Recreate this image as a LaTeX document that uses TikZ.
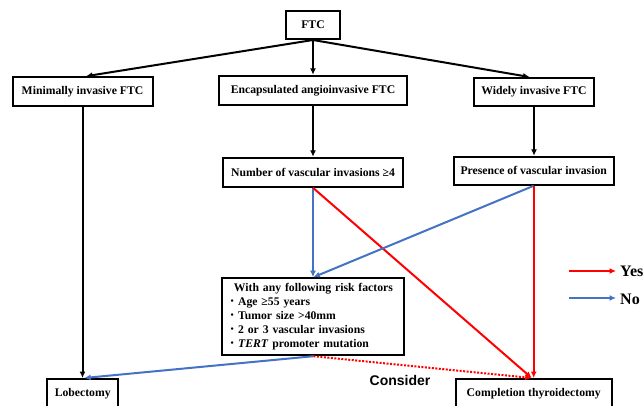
\documentclass[tikz,border=0pt]{standalone}
\usepackage{fontspec}
\setmainfont{Liberation Serif}
\newfontfamily\sansbold{Liberation Sans}
\newfontfamily\cjk{Noto Sans CJK JP}
\usetikzlibrary{arrows.meta}
\definecolor{myred}{RGB}{255,0,0}
\definecolor{myblue}{RGB}{68,114,196}
\newcommand\bul{{\mdseries\cjk ・}}
\begin{document}
\begin{tikzpicture}[x=1pt,y=-1pt,
  box/.style={draw,line width=2pt,inner sep=0pt,font=\bfseries\fontsize{11.7}{14}\selectfont,align=center},
  arr/.style={line width=2pt,-{Latex[length=6.5pt,width=6pt]}},
  yesarr/.style={arr,myred},
  noarr/.style={arr,myblue},
  dotarr/.style={yesarr,dash pattern=on 2pt off 1.5pt},
  legend/.style={font=\bfseries\fontsize{16}{18}\selectfont,anchor=west,inner sep=1pt}]
\useasboundingbox (0,0) rectangle (644,406);
\clip (0,0) rectangle (644,406);
\fill[white] (0,0) rectangle (644,406);

\node[box,minimum width=54pt,minimum height=28pt] (ftc) at (313,25) {FTC};
\node[box,minimum width=140pt,minimum height=29pt] (min) at (82.5,91.7) {Minimally invasive FTC};
\node[box,minimum width=188pt,minimum height=29pt] (enc) at (313,90.3) {Encapsulated angioinvasive FTC};
\node[box,minimum width=120pt,minimum height=28pt] (wid) at (534,92) {Widely invasive FTC};
\node[box,minimum width=180pt,minimum height=29pt] (num) at (313,172.3) {Number of vascular invasions ≥4};
\node[box,minimum width=160pt,minimum height=28pt] (pres) at (533.7,170.8) {Presence of vascular invasion};
\node[box,minimum width=182pt,minimum height=77pt,text width=174pt,align=left] (risk) at (313.4,316.7)
  {\makebox[174pt]{With any following risk factors}\\
   \bul Age ≥55 years\\
   \bul Tumor size >40mm\\
   \bul 2 or 3 vascular invasions\\
   \bul\textit{TERT} promoter mutation};
\node[box,minimum width=71pt,minimum height=29pt] (lob) at (82.7,393.5) {Lobectomy};
\node[box,minimum width=156pt,minimum height=29pt] (comp) at (533.7,393.5) {Completion thyroidectomy};
\node[font=\sansbold\bfseries\fontsize{14}{16}\selectfont,inner sep=0pt] (cons) at (400,380) {Consider};

\coordinate (ys) at (569,271);
\coordinate (ns) at (569,298);
\node[legend] (yes) at (619,271.5) {Yes};
\node[legend] (no) at (619,299) {No};
\draw[yesarr,shorten >=3pt] (ys) -- (ys -| yes.west);
\draw[noarr,shorten >=3pt] (ns) -- (ns -| no.west);

\draw[arr] (ftc.south) -- ([xshift=3.5pt]min.north);
\draw[arr] (ftc.south) -- (enc.north);
\draw[arr] (ftc.south) -- ([xshift=-4.5pt]wid.north);
\draw[arr] (min.south) -- (min.south |- lob.north);
\draw[arr] (enc.south) -- (enc.south |- num.north);
\draw[arr] (wid.south) -- (wid.south |- pres.north);
\draw[noarr] (num.south) -- (num.south |- risk.north);
\draw[yesarr] (num.south) -- ([xshift=-2pt]comp.north);
\draw[noarr] (pres.south) -- (risk.north);
\draw[yesarr] (pres.south) -- (pres.south |- comp.north);
\draw[noarr] (risk.south) -- ([xshift=1.5pt]lob.north);
\draw[dotarr] (risk.south) -- ([xshift=-2pt]comp.north);
\end{tikzpicture}
\end{document}
